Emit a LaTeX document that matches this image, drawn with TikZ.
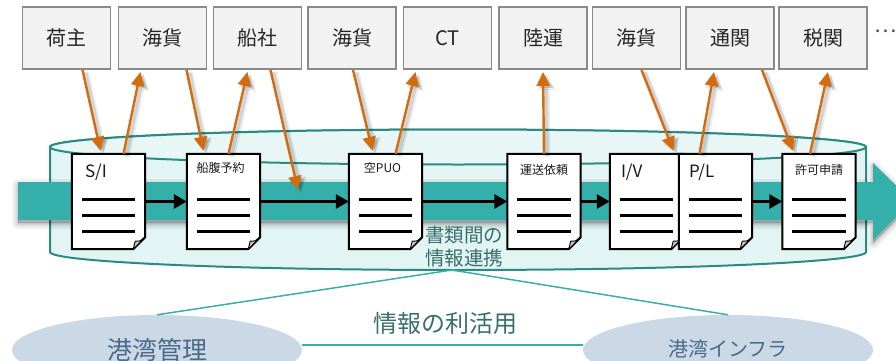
\documentclass[tikz,border=0pt]{standalone}
\usepackage{fontspec}
\setmainfont{Noto Sans CJK JP}
\usetikzlibrary{arrows.meta,shapes.geometric,calc}

\definecolor{boxfill}{HTML}{F2F2F2}
\definecolor{boxedge}{HTML}{8A8A8A}
\definecolor{flowor}{HTML}{D46B0E}
\definecolor{bandteal}{HTML}{35AFA9}
\definecolor{cylline}{HTML}{2B8A84}
\definecolor{cylfill}{HTML}{E2F4F3}
\definecolor{cyltop}{HTML}{E8F7F6}
\definecolor{linkteal}{HTML}{3AAFA9}
\definecolor{tealtext}{HTML}{386F6D}
\definecolor{ovalfill}{HTML}{CBD8E5}
\definecolor{ovaltext}{HTML}{4A6A8A}

\tikzset{
  actor/.style={draw=boxedge, fill=boxfill, line width=1.8pt,
    minimum width=88pt, minimum height=62pt, inner sep=0pt,
    font=\fontsize{20pt}{24pt}\selectfont, text=black!85},
  paper/.style={minimum width=73pt, minimum height=95pt, inner sep=0pt},
  papertag/.style={inner sep=0pt, text=black!90},
  bigtag/.style={papertag, anchor=west, font=\fontsize{17pt}{20pt}\selectfont},
  smalltag/.style={papertag, font=\fontsize{12pt}{14pt}\selectfont},
  flow/.style={draw=flowor, line width=2.4pt,
    -{Triangle[length=14pt,width=13pt]}},
  flowshadeA/.style={draw=black, opacity=0.07, line width=7pt,
    -{Triangle[length=15pt,width=17pt]},
    transform canvas={shift={(3pt,-3pt)}}},
  flowshadeB/.style={draw=black, opacity=0.11, line width=3.5pt,
    -{Triangle[length=14pt,width=14pt]},
    transform canvas={shift={(3pt,-2pt)}}},
  chain/.style={draw=black, line width=2.8pt,
    -{Triangle[length=13pt,width=14pt]}},
  oval/.style={ellipse, fill=ovalfill, minimum width=290pt,
    minimum height=70pt, inner sep=0pt, text=ovaltext},
  link/.style={draw=linkteal, line width=1.5pt}
}

% one sheet of paper with a folded corner and three text rules
\newcommand\sheet[1]{%
  \filldraw[fill=white, draw=black, line width=2pt, line join=miter]
    (#1.north west) -- (#1.north east)
    -- ($(#1.south east)+(0,-12)$) -- ($(#1.south east)+(-12,0)$)
    -- (#1.south west) -- cycle;
  \filldraw[fill=gray!45, draw=black, line width=0.9pt, line join=round]
    ($(#1.south east)+(0,-12)$) .. controls ($(#1.south east)+(-5,-8)$) ..
    ($(#1.south east)+(-10,-8)$) -- ($(#1.south east)+(-12,0)$) -- cycle;
  \foreach \dy in {46,62,78}{%
    \draw[black, line width=3pt]
      ($(#1.north west)+(10,\dy)$) -- ($(#1.north east)+(-10,\dy)$);}
}

% orange hand-over arrow with a soft shadow
\newcommand\handover[2]{%
  \draw[flowshadeA] #1 -- #2;
  \draw[flowshadeB] #1 -- #2;
  \draw[flow] #1 -- #2;}

\begin{document}
\begin{tikzpicture}[x=1pt, y=-1pt]
\useasboundingbox (0,0) rectangle (896,361);

% shared data platform (cylinder)
\filldraw[fill=cylfill, draw=cylline, line width=2pt]
  (50,252) arc[start angle=180, end angle=360, x radius=408pt, y radius=18pt]
  -- (866,147) arc[start angle=0, end angle=180, x radius=408pt, y radius=17.5pt]
  -- cycle;
\filldraw[fill=cyltop, draw=cylline, line width=2pt]
  (458,147) ellipse[x radius=408pt, y radius=17.5pt];
\coordinate (cylbot) at (452,270);

% main flow band with a soft shadow
\foreach \w/\o in {12/0.05, 7/0.07, 3/0.09}{%
  \filldraw[black, opacity=\o, line width=\w pt, line join=round]
    (18,185) -- (873,185) -- (873,166) -- (912,204) -- (873,243)
    -- (873,223) -- (18,223) -- cycle;}
\fill[bandteal] (18,182) -- (873,182) -- (873,163) -- (912,201)
  -- (873,240) -- (873,220) -- (18,220) -- cycle;

% documents
\node[paper] (si) at (108.5,201.5) {};
\node[paper] (fy) at (223.5,201.5) {};
\node[paper] (pu) at (385.5,201.5) {};
\node[paper] (ur) at (544,201.5) {};
\node[paper] (iv) at (646.5,201.5) {};
\node[paper] (pl) at (715.5,201.5) {};
\node[paper] (kk) at (819,201.5) {};
\sheet{si}\sheet{fy}\sheet{pu}\sheet{ur}\sheet{iv}\sheet{pl}\sheet{kk}

\node[bigtag] (siT) at ($(si.north west)+(13,18)$) {S/I};
\node[smalltag] (fyT) at ($(fy.north)+(-3,14)$) {船腹予約};
\node[smalltag] (puT) at ($(pu.north)+(-3,14)$) {空PUO};
\node[smalltag] (urT) at ($(ur.north)+(0,16)$) {運送依頼};
\node[bigtag] (ivT) at ($(iv.north west)+(11,18)$) {I/V};
\node[bigtag] (plT) at ($(pl.north west)+(10,18)$) {P/L};
\node[smalltag] (kkT) at ($(kk.north)+(0,16)$) {許可申請};

% document chain
\draw[chain] (si.east) -- (fy.west);
\draw[chain] (fy.east) -- (pu.west);
\draw[chain] (pu.east) -- (ur.west);
\draw[chain] (ur.east) -- (iv.west);
\draw[chain] (pl.east) -- (kk.west);

% parties
\node[actor] (b1) at (66.5,38) {荷主};
\node[actor] (b2) at (162.5,38) {海貨};
\node[actor] (b3) at (257.5,38) {船社};
\node[actor] (b4) at (352,38) {海貨};
\node[actor] (b5) at (447.5,38) {CT};
\node[actor] (b6) at (543,38) {陸運};
\node[actor] (b7) at (636.5,38) {海貨};
\node[actor] (b8) at (730,38) {通関};
\node[actor] (b9) at (823,38) {税関};
\node[anchor=west, inner sep=0pt, font=\fontsize{21pt}{24pt}\selectfont,
  text=black!70] (more) at (874,31) {…};

% hand-overs between parties and documents
\coordinate (bandhit) at (298,190);
\handover{([xshift=16]b1.south)}{([xshift=-8,yshift=3]si.north)}
\handover{([xshift=15]si.north)}{([xshift=-22,yshift=-2]b2.south)}
\handover{([xshift=24]b2.south)}{([xshift=-20,yshift=3]fy.north)}
\handover{([xshift=5]fy.north)}{([xshift=-10,yshift=-2]b3.south)}
\handover{([xshift=13]b3.south)}{(bandhit)}
\handover{([xshift=1]b4.south)}{([xshift=-13,yshift=3]pu.north)}
\handover{([xshift=10]pu.north)}{([xshift=-32,yshift=-2]b5.south)}
\handover{(ur.north)}{([yshift=-2]b6.south)}
\handover{([xshift=5]b7.south)}{([xshift=27,yshift=3]iv.north)}
\handover{([xshift=-16]pl.north)}{([xshift=-16,yshift=-2]b8.south)}
\handover{([xshift=32]b8.south)}{([xshift=-26,yshift=3]kk.north)}
\handover{([xshift=-9]kk.north)}{([xshift=5,yshift=-2]b9.south)}

% caption inside the platform
\node[align=center, inner sep=0pt, text=tealtext,
  font=\fontsize{19.5pt}{23pt}\selectfont] (share) at (464,247)
  {書類間の\\情報連携};

% use of the shared information
\node[oval, font=\fontsize{25pt}{28pt}\selectfont] (kanri) at (157,350) {港湾管理};
\node[oval, font=\fontsize{20pt}{24pt}\selectfont] (infra) at (728,350) {\raisebox{3pt}{港湾インフラ}};
\draw[link] (cylbot) -- (kanri.north);
\draw[link] (cylbot) -- (infra.north);
\draw[link] ([yshift=5pt]kanri.east) -- ([yshift=5pt]infra.west);
\node[inner sep=0pt, text=tealtext, font=\fontsize{24pt}{28pt}\selectfont]
  (use) at (445,323) {情報の利活用};
\end{tikzpicture}
\end{document}
